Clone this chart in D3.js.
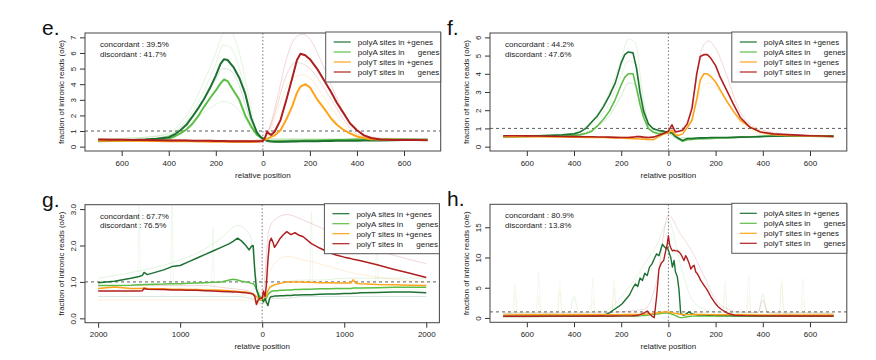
<!DOCTYPE html>
<html>
<head>
<meta charset="utf-8">
<script src="https://cdn.jsdelivr.net/npm/d3@7"></script>
<style>
  body { margin: 0; background: #fff; }
  text { font-family: "Liberation Sans", Arial, Helvetica, sans-serif; }
</style>
</head>
<body>
<script>
// legend entries and line colours
const seriesNames = ["polyA sites in +genes", "polyA sites in      genes", "polyT sites in +genes", "polyT sites in      genes"];
const seriesColors = ["#1d7233", "#5cbf45", "#ffa31a", "#b01f1f"];

// ---------- panel e ----------
const eX = [-700,-650,-600,-550,-500,-450,-400,-375,-350,-325,-300,-275,-250,-225,-200,-180,-165,-150,-125,-100,-75,-50,-25,-10,0,
  10,18,25,35,50,75,100,125,145,160,180,200,230,260,290,315,345,370,400,430,460,500,550,600,650,700];
const ePolyAplus = [0.40,0.40,0.42,0.43,0.45,0.50,0.60, 0.78,1.05,1.40,1.90,2.45,3.05,3.75,4.55,
  5.30,5.60,5.55,5.10,4.40,3.40,1.85,0.90,0.62,0.50, 0.42,0.38,0.35,0.33,0.32,0.32,0.32,0.33,0.33,0.34,
  0.34,0.35,0.35,0.36,0.36,0.37,0.37,0.38,0.38,0.39, 0.40,0.40,0.41,0.42,0.42,0.42];
const ePolyAminus = [0.35,0.36,0.38,0.40,0.42,0.45,0.52, 0.65,0.85,1.10,1.45,1.95,2.55,3.10,3.60,
  4.05,4.30,4.20,3.60,3.00,2.00,1.30,0.75,0.60,0.55, 0.45,0.40,0.38,0.36,0.35,0.35,0.36,0.37,0.38,0.38,
  0.39,0.40,0.40,0.41,0.42,0.42,0.43,0.44,0.45,0.45, 0.46,0.46,0.45,0.45,0.44,0.44];
const ePolyTplus = [0.38,0.38,0.37,0.37,0.36,0.36,0.35, 0.35,0.35,0.34,0.34,0.33,0.33,0.32,0.32,
  0.32,0.31,0.31,0.30,0.30,0.30,0.30,0.32,0.35,0.40, 0.45,0.50,0.55,0.62,0.72,1.05,1.75,2.60,3.45,3.85,
  4.00,3.80,3.05,2.45,1.80,1.40,1.05,0.85,0.65,0.55, 0.48,0.45,0.44,0.43,0.43,0.42];
const ePolyTminus = [0.45,0.44,0.44,0.43,0.42,0.41,0.40, 0.40,0.39,0.39,0.38,0.38,0.37,0.37,0.36,
  0.36,0.36,0.35,0.35,0.35,0.34,0.34,0.34,0.35,0.36, 0.60,0.95,0.85,0.75,0.95,1.70,3.00,4.40,5.55,5.95,
  5.85,5.60,5.00,4.25,3.50,2.80,2.10,1.50,1.05,0.72, 0.55,0.46,0.43,0.42,0.42,0.41];
// faint single-sample traces
const eFaintX = [-700,-500,-400,-350,-300,-250,-200,-170,-140,-100,-60,-30,0,30,60,100,140,170,200,250,300,350,400,500,700];
const eFaintA1 = [0.5,0.6,0.8,1.3,2.2,3.6,5.3,6.5,6.4,5.0,2.6,1.0,0.6,0.5,0.5,0.5,0.5,0.5,0.5,0.5,0.5,0.5,0.5,0.5,0.5];
const eFaintA2 = [0.4,0.5,0.7,1.1,1.6,2.2,2.7,2.9,2.8,2.3,1.4,0.8,0.5,0.4,0.4,0.4,0.4,0.4,0.4,0.4,0.4,0.4,0.45,0.45,0.45];
const eFaintA3 = [0.5,0.6,0.9,1.5,2.6,4.2,6.0,7.2,7.4,6.0,3.2,1.2,0.6,0.5,0.5,0.5,0.5,0.5,0.5,0.5,0.5,0.5,0.5,0.5,0.5];
const eFaintA4 = [0.45,0.5,0.7,1.2,2.0,3.1,4.3,5.0,4.9,3.9,2.0,0.9,0.5,0.45,0.45,0.45,0.45,0.45,0.45,0.45,0.45,0.45,0.5,0.5,0.5];
const eFaintT1 = [0.5,0.45,0.45,0.45,0.4,0.4,0.4,0.4,0.4,0.4,0.4,0.4,0.5,1.3,3.0,5.6,7.0,7.2,6.9,5.4,3.6,2.0,1.0,0.55,0.5];
const eFaintT2 = [0.4,0.4,0.4,0.4,0.4,0.4,0.4,0.4,0.4,0.4,0.4,0.4,0.4,1.0,2.2,3.8,4.5,4.6,4.4,3.4,2.3,1.3,0.7,0.5,0.45];
const eFaintT3 = [0.45,0.45,0.45,0.45,0.4,0.4,0.4,0.4,0.4,0.4,0.4,0.4,0.45,1.2,2.6,4.6,5.4,5.3,5.0,4.0,2.8,1.6,0.8,0.5,0.45];

// ---------- panel f ----------
const fX = [-700,-650,-600,-550,-500,-450,-400,-375,-350,-325,-300,-275,-250,-225,-200,-185,-170,-150,-135,-120,-105,-85,-65,-40,-20,
  0,15,30,45,60,80,100,120,135,150,165,180,200,220,245,275,305,345,390,445,500,550,600,650,700];
const fPolyAplus = [0.55,0.56,0.58,0.60,0.62,0.65,0.70, 0.80,1.00,1.35,1.70,2.20,2.80,3.50,4.60,
  5.05,5.20,5.15,4.30,2.95,1.95,1.25,0.98,0.88,0.85, 0.78,0.75,0.55,0.45,0.33,0.45,0.45,0.47,0.48,0.48,
  0.49,0.50,0.50,0.50,0.50,0.51,0.52,0.53,0.55,0.57, 0.58,0.59,0.60,0.60,0.60];
const fPolyAminus = [0.55,0.55,0.56,0.57,0.58,0.60,0.62, 0.66,0.72,0.85,1.15,1.50,1.95,2.60,3.40,
  3.80,4.00,4.00,3.20,2.30,1.60,1.00,0.80,0.70,0.75, 0.80,0.75,0.60,0.40,0.30,0.38,0.40,0.42,0.43,0.44,
  0.45,0.45,0.46,0.47,0.48,0.50,0.52,0.54,0.56,0.58, 0.60,0.58,0.57,0.56,0.55];
const fPolyTplus = [0.55,0.55,0.54,0.54,0.53,0.53,0.52, 0.52,0.51,0.51,0.50,0.50,0.49,0.48,0.47,
  0.46,0.45,0.44,0.43,0.42,0.41,0.40,0.38,0.55,0.70, 0.75,0.90,0.65,0.62,0.70,1.05,1.45,2.60,3.65,4.00,
  4.00,3.85,3.55,3.10,2.55,1.95,1.45,1.08,0.80,0.65, 0.62,0.60,0.58,0.57,0.56];
const fPolyTminus = [0.60,0.60,0.59,0.58,0.57,0.56,0.55, 0.55,0.54,0.54,0.53,0.53,0.52,0.51,0.50,
  0.50,0.50,0.52,0.56,0.55,0.52,0.50,0.52,0.62,0.72, 0.85,1.20,0.80,0.85,0.90,1.25,2.10,4.00,4.95,5.05,
  5.05,4.85,4.45,3.80,3.15,2.35,1.60,1.07,0.80,0.70, 0.66,0.63,0.60,0.58,0.56];
const fFaintX = [-700,-500,-400,-350,-300,-250,-200,-170,-140,-110,-80,-40,0,40,80,110,140,170,200,250,300,350,400,500,700];
const fFaintA1 = [0.6,0.65,0.75,1.1,1.8,3.0,4.8,5.9,5.7,3.0,1.2,0.9,0.8,0.5,0.5,0.5,0.5,0.5,0.5,0.5,0.55,0.55,0.6,0.6,0.6];
const fFaintA2 = [0.5,0.55,0.6,0.8,1.1,1.7,2.8,3.5,3.4,2.0,0.9,0.7,0.7,0.4,0.4,0.4,0.4,0.4,0.45,0.45,0.5,0.5,0.55,0.55,0.55];
const fFaintA3 = [0.55,0.6,0.7,1.0,1.5,2.4,3.9,4.7,4.6,2.6,1.0,0.8,0.75,0.45,0.45,0.45,0.45,0.45,0.5,0.5,0.5,0.55,0.55,0.6,0.6];
const fFaintT1 = [0.6,0.55,0.55,0.55,0.5,0.5,0.5,0.5,0.5,0.5,0.5,0.6,0.9,0.9,1.4,3.0,5.3,5.8,5.4,3.8,2.0,1.2,0.9,0.7,0.6];
const fFaintT2 = [0.55,0.55,0.55,0.55,0.55,0.55,0.55,0.55,0.55,0.55,0.55,0.55,0.8,0.8,1.0,2.0,3.2,3.5,3.3,2.4,1.4,0.9,0.7,0.6,0.55];

// ---------- panel g ----------
const gX = [-2000,-1800,-1600,-1500,-1460,-1440,-1400,-1200,-1100,-1000,-900,-800,-700,-600,-500,
  -400,-350,-300,-250,-200,-160,-130,-110,-90,-70,-50,-30,-10,0,15,35,50,70,90,110,
  130,150,180,220,260,300,350,400,450,500,600,700,800,900,1000,1080,1110,1140,1200,1400,1600,1800,2000];
const gPolyAplus = [0.98,1.02,1.10,1.15,1.18,1.26,1.20, 1.33,1.42,1.45,1.55,1.65,1.75,1.85,1.95,
  2.05,2.12,2.20,2.12,2.00,1.88,1.98,2.00,1.30,0.80, 0.65,0.50,0.55,0.50,0.45,0.55,0.45,0.35,0.55,0.60,
  0.60,0.61,0.61,0.62,0.62,0.63,0.63,0.64,0.64,0.65, 0.65,0.66,0.67,0.67,0.68,0.68,0.69,0.69,0.70,0.71, 0.72,0.72,0.70];
const gPolyAminus = [0.90,0.90,0.91,0.92,0.92,0.93,0.93, 0.94,0.95,0.95,0.96,0.97,0.98,0.99,1.00,
  1.05,1.07,1.05,1.02,1.00,0.98,0.96,0.95,0.90,0.80, 0.70,0.60,0.55,0.55,0.50,0.50,0.55,0.65,0.70,0.74,
  0.75,0.76,0.76,0.77,0.77,0.78,0.78,0.79,0.79,0.80, 0.80,0.81,0.81,0.82,0.82,0.82,0.83,0.83,0.83,0.84, 0.85,0.85,0.85];
const gPolyTplus = [0.82,0.86,0.82,0.82,0.82,0.84,0.82, 0.81,0.80,0.80,0.79,0.79,0.78,0.78,0.77,
  0.76,0.75,0.74,0.73,0.72,0.70,0.68,0.66,0.64,0.60, 0.55,0.50,0.52,0.55,0.58,0.68,0.60,0.75,0.85,0.88,
  0.90,0.92,0.94,0.96,0.98,1.00,1.00,1.00,1.00,0.99, 0.99,0.98,0.98,0.97,0.97,0.97,1.06,0.96,0.95,0.93, 0.92,0.91,0.90];
const gPolyTminus = [0.75,0.75,0.75,0.75,0.76,0.82,0.80, 0.79,0.78,0.78,0.77,0.77,0.76,0.75,0.74,
  0.73,0.72,0.72,0.71,0.70,0.69,0.68,0.66,0.60,0.38, 0.50,0.55,0.55,0.55,0.75,0.60,0.90,1.60,2.10,2.20,
  2.10,1.95,2.05,2.20,2.30,2.38,2.30,2.35,2.28,2.24, 2.05,1.93,1.82,1.74,1.68,1.64,1.62,1.61,1.58,1.47, 1.35,1.24,1.12];
const gFaintX = [-2000,-1500,-1000,-700,-500,-300,-150,-80,0,80,150,300,500,700,1000,1500,2000];
const gFaintA1 = [1.1,1.3,1.6,1.9,2.2,2.55,2.3,1.2,0.6,0.8,0.9,1.0,1.05,1.05,1.1,1.1,1.1];
const gFaintA2 = [0.6,0.6,0.6,0.6,0.6,0.6,0.55,0.5,0.4,0.5,0.55,0.55,0.6,0.6,0.6,0.6,0.6];
const gFaintT1 = [0.9,0.9,0.9,0.9,0.85,0.8,0.75,0.6,0.5,2.4,2.7,2.85,2.7,2.5,2.2,1.8,1.5];
const gFaintT2 = [0.5,0.5,0.5,0.5,0.5,0.5,0.5,0.45,0.4,1.2,1.5,1.7,1.6,1.5,1.3,1.1,1.0];
// narrow spikes seen in single traces
const gSpikeX = [-2000,-1520,-1500,-1480,-1120,-1100,-1080,-620,-600,-580,0,580,600,620,1380,1400,1420,2000];
const gSpikeA = [0.8,0.8,3.1,0.8,0.8,3.1,0.8,0.8,2.5,0.8,0.6,0.8,2.9,0.8,0.8,2.6,0.8,0.8];

// ---------- panel h ----------
const hX = [-700,-600,-500,-400,-300,-270,-250,-230,-210,-195,-180,-165,-150,-140,-130,-120,-110,-100,-90,-80,
  -70,-60,-50,-40,-30,-25,-20,-10,-5,0,5,10,17,24,30,38,45,52,60,66,73,80,88,95,102,109,116,123,130,137,
  144,151,165,180,195,210,225,250,280,320,400,500,600,700];
const hPolyAplus = [0.30,0.30,0.32,0.33,0.35, 0.50,0.85,1.40,1.90,2.40, 3.10,3.80,5.00,5.60,5.20, 6.60,6.20,7.40,7.00,8.40,
  8.90,9.80,10.60,10.30,11.60, 12.20,11.90,11.50,11.70,11.20, 10.60,10.00,8.40,9.50,7.60, 6.80,4.60,0.80,0.50,0.45,
  0.60,0.80,1.00,0.80,0.65, 0.60,0.55,0.50,0.50,0.50, 0.48,0.47,0.45,0.43,0.42, 0.40,0.40,0.38,0.37,0.36, 0.35,0.35,0.34,0.34];
const hPolyAminus = [0.25,0.25,0.26,0.26,0.27, 0.28,0.28,0.29,0.29,0.30, 0.30,0.30,0.31,0.32,0.33, 0.35,0.38,0.40,0.45,0.50,
  0.55,0.60,0.65,0.70,0.75, 0.78,0.80,0.80,0.80,0.78, 0.75,0.70,0.60,0.50,0.40, 0.25,0.10,0.05,0.05,0.10,
  0.15,0.20,0.25,0.28,0.30, 0.30,0.30,0.30,0.30,0.30, 0.30,0.30,0.30,0.30,0.30, 0.30,0.30,0.30,0.30,0.30, 0.28,0.28,0.27,0.27];
const hPolyTplus = [0.50,0.52,0.52,0.53,0.53, 0.54,0.54,0.55,0.55,0.55, 0.56,0.56,0.57,0.57,0.58, 0.58,0.60,0.62,0.65,0.68,
  0.70,0.75,0.80,0.85,0.90, 0.95,1.00,1.05,1.00,0.95, 0.95,0.90,0.85,0.80,0.75, 0.70,0.65,0.60,0.58,0.56,
  0.55,0.55,0.55,0.56,0.56, 0.56,0.56,0.57,0.57,0.57, 0.56,0.56,0.55,0.55,0.54, 0.54,0.53,0.53,0.52,0.52, 0.51,0.51,0.50,0.50];
const hPolyTminus = [0.28,0.28,0.30,0.30,0.32, 0.32,0.33,0.33,0.34,0.34, 0.35,0.35,0.36,0.40,0.45, 0.55,0.70,0.90,1.15,0.70,
  0.30,0.05,3.50,8.10,9.10, 9.30,9.50,11.40,12.20,13.60, 12.20,11.60,11.10,11.20,11.10, 11.10,10.90,10.60,10.00,9.50,
  10.30,9.80,9.00,8.10,8.50, 8.70,7.60,7.30,6.80,6.20, 5.80,5.40,4.60,3.50,2.60, 1.90,1.40,0.80,0.45,0.38, 0.35,0.33,0.32,0.32];
const hFaintX = [-700,-600,-500,-420,-400,-380,-300,-250,-200,-150,-100,-50,0,50,100,150,200,250,300,380,400,420,500,600,700];
const hFaintA1 = [0.8,0.9,0.8,0.9,3.5,0.9,1.0,1.5,3.5,6.0,9.0,12.0,16.0,9.0,3.0,1.5,1.0,0.9,0.8,0.9,4.0,0.9,0.8,0.9,0.8];
const hFaintT1 = [0.7,0.8,0.8,0.8,0.8,0.8,0.8,0.9,1.0,1.2,1.5,6.0,17.0,14.0,11.0,7.0,3.0,1.5,1.0,0.9,3.0,0.9,0.8,0.8,0.7];
const hSpikeX = [-700,-660,-650,-640,-560,-550,-540,-470,-460,-450,-330,-320,-310,-240,-230,-220,0,
  230,240,250,330,340,350,470,480,490,560,570,580,700];
const hSpikeA = [0.8,0.8,5.5,0.8,0.8,7.5,0.8,0.8,4.5,0.8,0.8,6.5,0.8,0.8,5.0,0.8,1.0,
  0.8,6.0,0.8,0.8,7.0,0.8,0.8,5.5,0.8,0.8,6.5,0.8,0.8];
const hSpikeT = [0.7,0.7,4.0,0.7,0.7,3.5,0.7,0.7,6.0,0.7,0.7,3.0,0.7,0.7,6.5,0.7,1.0,
  0.7,4.0,0.7,0.7,3.5,0.7,0.7,6.5,0.7,0.7,3.0,0.7,0.7];

// concordance texts
const concordant = ["39.5%", "44.2%", "67.7%", "80.9%"];
const discordant = ["41.7%", "47.6%", "76.5%", "13.8%"];

// panel layout (plot box in pixels) and axis settings; faint entries: [x, y, colour index, opacity]
const panels = [
  { label: "e.", left: 85, right: 440.7, top: 33, bottom: 151, xDomain: [-756, 756], yDomain: [-0.28, 7.28],
    xTicks: [-600,-400,-200,0,200,400,600], yTicks: [0,1,2,3,4,5,6,7], yFmt: d3.format("d"), lw: 2,
    x: eX, series: [ePolyAplus, ePolyAminus, ePolyTplus, ePolyTminus],
    faint: [[eFaintX, eFaintA1, 1, 0.22], [eFaintX, eFaintA2, 1, 0.22], [eFaintX, eFaintA3, 1, 0.22], [eFaintX, eFaintA4, 0, 0.22],
            [eFaintX, eFaintT1, 3, 0.22], [eFaintX, eFaintT2, 2, 0.22], [eFaintX, eFaintT3, 3, 0.22]] },
  { label: "f.", left: 490, right: 846.8, top: 33, bottom: 151, xDomain: [-756, 756], yDomain: [-0.24, 6.24],
    xTicks: [-600,-400,-200,0,200,400,600], yTicks: [0,1,2,3,4,5,6], yFmt: d3.format("d"), lw: 1.6,
    x: fX, series: [fPolyAplus, fPolyAminus, fPolyTplus, fPolyTminus],
    faint: [[fFaintX, fFaintA1, 1, 0.22], [fFaintX, fFaintA2, 0, 0.22], [fFaintX, fFaintA3, 1, 0.22],
            [fFaintX, fFaintT1, 3, 0.22], [fFaintX, fFaintT2, 2, 0.22]] },
  { label: "g.", left: 85, right: 439.4, top: 204.7, bottom: 322.7, xDomain: [-2160, 2160], yDomain: [-0.12, 3.12],
    xTicks: [-2000,-1000,0,1000,2000], yTicks: [0,1,2,3], yFmt: d3.format(".1f"), lw: 1.5,
    x: gX, series: [gPolyAplus, gPolyAminus, gPolyTplus, gPolyTminus],
    faint: [[gFaintX, gFaintA1, 1, 0.22], [gFaintX, gFaintA2, 0, 0.22], [gFaintX, gFaintT1, 3, 0.22],
            [gFaintX, gFaintT2, 2, 0.22], [gSpikeX, gSpikeA, 1, 0.12]] },
  { label: "h.", left: 490, right: 846.8, top: 204.3, bottom: 322.3, xDomain: [-756, 756], yDomain: [-0.72, 18.8],
    xTicks: [-600,-400,-200,0,200,400,600], yTicks: [0,5,10,15], yFmt: d3.format("d"), lw: 1.4,
    x: hX, series: [hPolyAplus, hPolyAminus, hPolyTplus, hPolyTminus],
    faint: [[hFaintX, hFaintA1, 1, 0.2], [hFaintX, hFaintT1, 3, 0.2], [hSpikeX, hSpikeA, 1, 0.1], [hSpikeX, hSpikeT, 2, 0.1]] }
];

const svg = d3.select("body").append("svg")
  .attr("width", 876)
  .attr("height", 360);

// draw order: light green, dark green, orange, red
const drawOrder = [1, 0, 2, 3];

panels.forEach((p, pi) => {
  const xScale = d3.scaleLinear().domain(p.xDomain).range([p.left, p.right]);
  const yScale = d3.scaleLinear().domain(p.yDomain).range([p.bottom, p.top]);
  const g = svg.append("g");

  // clip to the plot box
  const clipId = "clip" + pi;
  svg.append("clipPath").attr("id", clipId)
    .append("rect")
      .attr("x", p.left).attr("y", p.top)
      .attr("width", p.right - p.left).attr("height", p.bottom - p.top);
  const plot = g.append("g").attr("clip-path", `url(#${clipId})`);

  // faint individual traces
  p.faint.forEach(([xs, ys, c, op]) => {
    const fl = d3.line().x((d, i) => xScale(xs[i])).y(d => yScale(d)).curve(d3.curveMonotoneX);
    plot.append("path")
      .datum(ys)
      .attr("fill", "none")
      .attr("stroke", seriesColors[c])
      .attr("stroke-opacity", op)
      .attr("stroke-width", 0.8)
      .attr("d", fl);
  });

  // reference lines
  plot.append("line")
    .attr("x1", p.left).attr("x2", p.right)
    .attr("y1", yScale(1)).attr("y2", yScale(1))
    .attr("stroke", "#333").attr("stroke-width", 0.8).attr("stroke-dasharray", "3,3");
  plot.append("line")
    .attr("x1", xScale(0)).attr("x2", xScale(0))
    .attr("y1", p.top).attr("y2", p.bottom)
    .attr("stroke", "#777").attr("stroke-width", 1).attr("stroke-dasharray", "1.5,2");

  // main averaged lines
  const line = d3.line().x((d, i) => xScale(p.x[i])).y(d => yScale(d));
  drawOrder.forEach(k => {
    plot.append("path")
      .datum(p.series[k])
      .attr("fill", "none")
      .attr("stroke", seriesColors[k])
      .attr("stroke-width", p.lw)
      .attr("stroke-linejoin", "round")
      .attr("d", line);
  });

  // axes
  const xAxis = g.append("g")
    .attr("transform", `translate(0, ${p.bottom})`)
    .call(d3.axisBottom(xScale).tickValues(p.xTicks).tickFormat(d => Math.abs(d)).tickSize(5).tickPadding(4));
  const yAxis = g.append("g")
    .attr("transform", `translate(${p.left}, 0)`)
    .call(d3.axisLeft(yScale).tickValues(p.yTicks).tickFormat(p.yFmt).tickSize(5));
  [xAxis, yAxis].forEach(a => {
    a.select(".domain").remove();
    a.selectAll("line").attr("stroke", "#333");
    a.selectAll("text").attr("font-size", 8).attr("fill", "#222")
      .attr("font-family", "Liberation Sans, Arial, sans-serif");
  });
  yAxis.selectAll("text")
    .attr("x", null).attr("dy", null)
    .attr("text-anchor", "middle")
    .attr("transform", "translate(-9,0) rotate(-90)");

  // plot box
  g.append("rect")
    .attr("x", p.left).attr("y", p.top)
    .attr("width", p.right - p.left).attr("height", p.bottom - p.top)
    .attr("fill", "none").attr("stroke", "#444").attr("stroke-width", 1);

  // axis titles
  g.append("text")
    .attr("x", (p.left + p.right) / 2).attr("y", p.bottom + 26.5)
    .attr("text-anchor", "middle").attr("font-size", 8).attr("fill", "#222")
    .text("relative position");
  g.append("text")
    .attr("transform", `translate(${p.left - 21}, ${(p.top + p.bottom) / 2}) rotate(-90)`)
    .attr("text-anchor", "middle").attr("font-size", 8).attr("fill", "#222")
    .text("fraction of intronic reads (o/e)");

  // panel letter
  g.append("text")
    .attr("x", p.left - 43).attr("y", p.top + 2)
    .attr("font-size", 21).attr("fill", "#111")
    .text(p.label);

  // concordance note
  g.append("text")
    .attr("x", p.left + 15).attr("y", p.top + 14)
    .attr("font-size", 8).attr("fill", "#222")
    .text("concordant : " + concordant[pi]);
  g.append("text")
    .attr("x", p.left + 15).attr("y", p.top + 23.5)
    .attr("font-size", 8).attr("fill", "#222")
    .text("discordant : " + discordant[pi]);

  // legend
  const lg = g.append("g").attr("transform", `translate(${p.right - 115}, ${p.top - 1})`);
  lg.append("rect")
    .attr("width", 115).attr("height", 50)
    .attr("fill", "#fff").attr("stroke", "#555").attr("stroke-width", 1);
  seriesNames.forEach((name, k) => {
    const cy = 10 + k * 10;
    lg.append("line")
      .attr("x1", 8).attr("x2", 25).attr("y1", cy).attr("y2", cy)
      .attr("stroke", seriesColors[k]).attr("stroke-width", 1.2);
    lg.append("text")
      .attr("x", 32).attr("y", cy + 3)
      .attr("font-size", 8).attr("fill", "#222")
      .style("white-space", "pre")
      .text(name);
  });
});
</script>
</body>
</html>
